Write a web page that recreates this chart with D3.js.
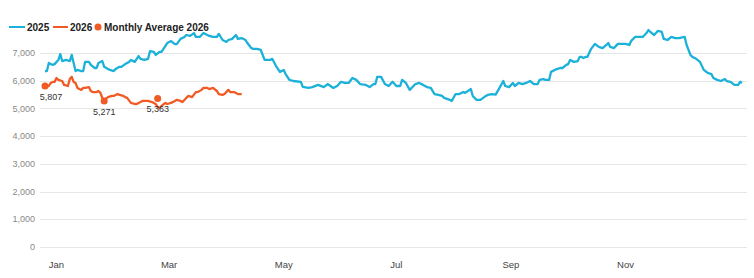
<!DOCTYPE html>
<html>
<head>
<meta charset="utf-8">
<script src="https://cdn.jsdelivr.net/npm/d3@7"></script>
<style>
  body { margin: 0; background: #fff; font-family: Arial, "Liberation Sans", sans-serif; }
  .grid line { stroke: #e6e6e6; stroke-width: 1; }
  .ylab { fill: #888; font-size: 9px; }
  .xlab { fill: #444; font-size: 9.5px; }
  .legend text { fill: #222; font-size: 10px; font-weight: bold; }
  .avg-label { fill: #333; font-size: 9px; }
</style>
</head>
<body>
<svg id="chart" width="754" height="278"></svg>
<script>
// day of year (0 = Jan 1) and daily value
const days_2025 = [0,1,2,4,5,7,8,9,11,13,14,15,16,17,19,20,21,23,24,26,27,28,30,31,33,34,36,37,39,40,42,44,45,47,49,50,52,54,55,57,58,60,61,63,64,66,68,69,71,73,74,76,78,79,81,83,85,86,88,90,91,93,95,96,98,100,101,103,105,106,108,109,111,113,115,118,119,121,123,125,126,128,130,134,135,138,140,143,146,148,151,153,155,157,159,161,163,165,168,170,172,173,174,176,178,180,182,184,186,187,189,191,194,196,198,200,202,204,206,208,209,212,213,215,217,219,220,223,224,226,228,230,232,234,236,238,240,241,243,245,246,248,250,252,254,256,258,259,261,262,264,265,268,270,271,273,274,275,277,279,280,281,282,283,284,286,288,290,292,294,295,296,298,300,302,304,306,307,309,311,313,315,316,317,319,321,323,324,326,328,330,332,335,336,338,339,341,343,345,347,349,350,352,354,356,357,359,361,363,364,365]
const values_2025 = [6350,6350,6640,6570,6600,6750,6960,6710,6750,6710,6930,6640,6350,6390,6350,6350,6680,6680,6570,6460,6460,6640,6710,6500,6420,6390,6350,6420,6500,6500,6600,6680,6750,6680,6890,6790,6750,6790,7070,7040,6930,7040,7040,7250,7360,7430,7320,7320,7510,7580,7650,7620,7720,7580,7580,7720,7650,7620,7580,7580,7690,7470,7400,7470,7510,7650,7510,7540,7470,7360,7180,7150,7150,7110,6750,6750,6790,6530,6320,6390,6240,6030,5990,5960,5780,5740,5770,5850,5770,5880,5740,5810,5960,5920,5920,6100,6030,5880,5850,5770,5880,5880,6140,6140,5880,5810,5960,5810,5810,6030,5920,5670,5880,5920,5850,5770,5740,5520,5490,5450,5380,5310,5270,5520,5520,5590,5560,5700,5450,5310,5310,5410,5490,5520,5500,5740,5990,5810,5770,5920,5810,5920,5880,5920,5990,5880,5880,6030,6060,6030,6030,6320,6420,6460,6460,6570,6600,6750,6680,6710,6860,6860,6820,6860,6860,7150,7330,7220,7180,7290,7360,7220,7180,7330,7330,7330,7290,7440,7580,7580,7580,7720,7830,7760,7650,7800,7760,7510,7470,7580,7540,7540,7580,7290,6930,6860,6790,6680,6390,6280,6240,6100,6030,5990,6060,5990,5960,5850,5850,5960,5920]

const days_2026 = [0,2,3,4,5,6,7,9,10,12,13,14,15,16,17,18,19,20,21,23,24,25,27,28,29,30,31,33,35,36,38,39,41,42,43,45,47,48,50,51,53,54,56,58,59,60,61,63,64,66,68,69,71,72,74,75,77,79,80,82,83,85,86,88,90,91,93,94,96,97,99,101,103]
const values_2026 = [5810,5810,5920,5955,5955,6100,6030,5990,5850,5810,6060,6140,5955,5920,5740,5700,5670,5740,5740,5770,5630,5590,5590,5630,5560,5380,5310,5410,5450,5450,5520,5490,5450,5410,5380,5200,5160,5160,5230,5270,5270,5270,5230,5160,5050,5020,5090,5200,5160,5200,5270,5310,5270,5230,5380,5450,5410,5590,5590,5670,5740,5740,5700,5740,5630,5520,5490,5520,5670,5590,5590,5520,5520]

// monthly averages 2026 (placed on the first day of the month)
const avg_days = [0, 31, 59]
const avg_values = [5807, 5271, 5363]

const y_ticks = [0, 1000, 2000, 3000, 4000, 5000, 6000, 7000]
const x_tick_labels = ["Jan", "Mar", "May", "Jul", "Sep", "Nov"]
const x_tick_days = [6, 65, 125, 184, 244, 304]

const blue = "#1bb1d8"
const orange = "#f15a24"

const svg = d3.select("#chart")

const x = d3.scaleLinear().domain([0, 365]).range([45, 742])
const y = d3.scaleLinear().domain([0, 8000]).range([247, 25.3])

// gridlines + y labels
const grid = svg.append("g").classed("grid", true)
grid.selectAll("line").data(y_ticks).join("line")
  .attr("x1", 40).attr("x2", 747)
  .attr("y1", d => Math.round(y(d)) + 0.5)
  .attr("y2", d => Math.round(y(d)) + 0.5)

svg.append("g").selectAll("text").data(y_ticks).join("text")
  .classed("ylab", true)
  .attr("x", 35)
  .attr("y", d => y(d))
  .attr("dy", "0.35em")
  .attr("text-anchor", "end")
  .text(d => d3.format(",")(d))

// x labels
svg.append("g").selectAll("text").data(x_tick_labels).join("text")
  .classed("xlab", true)
  .attr("x", (d, i) => x(x_tick_days[i]))
  .attr("y", 268)
  .attr("text-anchor", "middle")
  .text(d => d)

const line = d3.line()
  .x(d => x(d[0]))
  .y(d => y(d[1]))

svg.append("path")
  .datum(d3.zip(days_2025, values_2025))
  .attr("fill", "none")
  .attr("stroke", blue)
  .attr("stroke-width", 2.3)
  .attr("stroke-linejoin", "round")
  .attr("d", line)

svg.append("path")
  .datum(d3.zip(days_2026, values_2026))
  .attr("fill", "none")
  .attr("stroke", orange)
  .attr("stroke-width", 2.3)
  .attr("stroke-linejoin", "round")
  .attr("d", line)

const avgs = d3.zip(avg_days, avg_values)
svg.append("g").selectAll("circle").data(avgs).join("circle")
  .attr("cx", d => x(d[0]))
  .attr("cy", d => y(d[1]))
  .attr("r", 3.5)
  .attr("fill", orange)

svg.append("g").selectAll("text").data(avgs).join("text")
  .classed("avg-label", true)
  .attr("x", d => Math.max(x(d[0]), 51))
  .attr("y", d => y(d[1]) + 14)
  .attr("text-anchor", "middle")
  .text(d => d3.format(",")(d[1]))

// legend
const legend = svg.append("g").classed("legend", true)
legend.append("line").attr("x1", 9).attr("x2", 25).attr("y1", 27).attr("y2", 27)
  .attr("stroke", blue).attr("stroke-width", 2)
legend.append("text").attr("x", 27).attr("y", 30.5).text("2025")
legend.append("line").attr("x1", 53).attr("x2", 68).attr("y1", 27).attr("y2", 27)
  .attr("stroke", orange).attr("stroke-width", 2)
legend.append("text").attr("x", 70).attr("y", 30.5).text("2026")
legend.append("circle").attr("cx", 98).attr("cy", 27).attr("r", 3.5).attr("fill", orange)
legend.append("text").attr("x", 104).attr("y", 30.5).text("Monthly Average 2026")
</script>
</body>
</html>
